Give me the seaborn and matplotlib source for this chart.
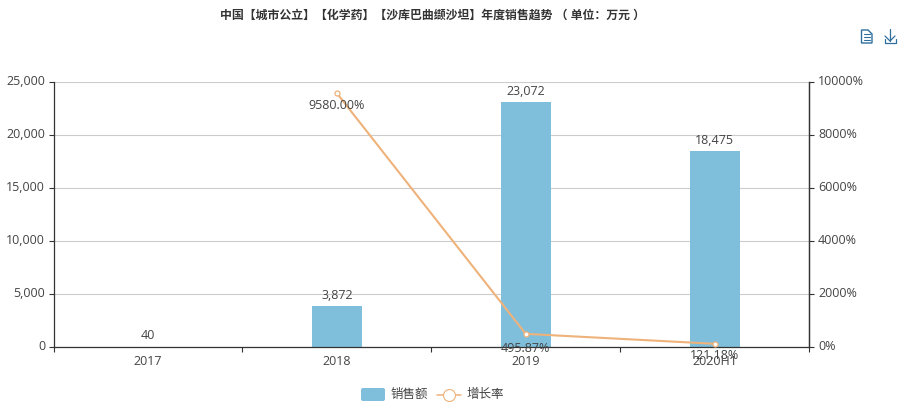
import matplotlib
matplotlib.use("Agg")
import matplotlib.pyplot as plt
from matplotlib.lines import Line2D
from matplotlib.patches import FancyBboxPatch, Polygon
from matplotlib.transforms import ScaledTranslation
import seaborn as sns
import pandas as pd

years = ["2017", "2018", "2019", "2020H1"]
sales = [40, 3872, 23072, 18475]
sales_labels = ["40", "3,872", "23,072", "18,475"]
growth_years = ["2018", "2019", "2020H1"]
growth = [9580.00, 495.87, 121.18]
growth_labels = ["9580.00%", "495.87%", "121.18%"]
left_ticks = [0, 5000, 10000, 15000, 20000, 25000]
right_ticks = [0, 2000, 4000, 6000, 8000, 10000]
title = "中国【城市公立】【化学药】【沙库巴曲缬沙坦】年度销售趋势 （ 单位：万元 ）"
legend_bar = "销售额"
legend_line = "增长率"

BAR = "#7fbfdc"
LINE = "#eeb27a"
TXT = "#444444"
AX = "#333333"
W, H = 902, 408
L, R, T, B = 53.5, 809, 82, 347

sns.set_theme(style="white")
plt.rcParams["font.family"] = ["Open Sans", "Noto Sans CJK SC", "DejaVu Sans"]

fig = plt.figure(figsize=(W / 100, H / 100), dpi=100, facecolor="white")
ax = fig.add_axes([L / W, 1 - B / H, (R - L) / W, (B - T) / H])

df = pd.DataFrame({"year": years, "sales": sales})
sns.barplot(data=df, x="year", y="sales", color=BAR, saturation=1, width=0.265,
            edgecolor="none", linewidth=0, ax=ax, zorder=2)
ax.set_xlim(-0.5, 3.5)
ax.set_ylim(0, 25000)
ax.set_yticks(left_ticks)
ax.set_yticklabels([f"{v:,}" for v in left_ticks])
ax.set_xlabel("")
ax.set_ylabel("")
ax.grid(axis="y", color="#cccccc", lw=0.8, zorder=0)
ax.set_axisbelow(True)
ax.set_xticks([0, 1, 2, 3])
ax.set_xticklabels(years)
ax.set_xticks([-0.5, 0.5, 1.5, 2.5, 3.5], minor=True)
ax.tick_params(axis="x", which="major", length=0, pad=5.5, labelsize=9, labelcolor=TXT)
ax.tick_params(axis="x", which="minor", length=3.5, width=0.8, color=AX, direction="out", bottom=True)
ax.tick_params(axis="y", length=3.5, width=0.8, color=AX, labelsize=9, labelcolor=TXT, pad=2.5, left=True)
for s in ["left", "bottom", "right"]:
    ax.spines[s].set_color(AX)
    ax.spines[s].set_linewidth(0.9)
ax.spines["top"].set_visible(False)

for x, v, lab in zip(years, sales, sales_labels):
    ax.annotate(lab, (years.index(x), v), xytext=(0, 3), textcoords="offset points",
                ha="center", va="bottom", fontsize=9, color=TXT, zorder=6)

ax2 = ax.twinx()
ax2.set_position(ax.get_position())
gd = pd.DataFrame({"x": [years.index(y) for y in growth_years], "g": growth})
sns.lineplot(data=gd, x="x", y="g", color=LINE, lw=1.5, marker="o", markersize=3.6,
             markerfacecolor="white", markeredgecolor=LINE, markeredgewidth=0.9, ax=ax2, zorder=5)
ax2.set_xlim(-0.5, 3.5)
ax2.set_ylim(0, 10000)
ax2.set_yticks(right_ticks)
ax2.set_yticklabels([f"{v}%" for v in right_ticks])
ax2.set_ylabel("")
ax2.tick_params(axis="y", length=3.5, width=0.8, color=AX, labelsize=9, labelcolor=TXT, pad=3, right=True)
ax2.grid(False)
for s in ["left", "bottom", "top"]:
    ax2.spines[s].set_visible(False)
ax2.spines["right"].set_color(AX)
ax2.spines["right"].set_linewidth(0.9)

# the reference's y tick labels sit slightly above their ticks
shift = ScaledTranslation(0, 1.5 / 72, fig.dpi_scale_trans)
for lab in ax.get_yticklabels() + ax2.get_yticklabels():
    lab.set_transform(lab.get_transform() + shift)

for y, v, lab, off in zip(growth_years, growth, growth_labels, [-4, -6, -3.5]):
    ax2.annotate(lab, (years.index(y), v), xytext=(0, off), textcoords="offset points",
                 ha="center", va="top", fontsize=9, color=TXT, zorder=7, annotation_clip=False)

fig.text(433 / W, 1 - 15 / H, title, ha="center", va="center", fontsize=8.55,
         fontweight="bold", color="#333333")

def px(xs, ys):
    return [(x / W, 1 - y / H) for x, y in zip(xs, ys)]

# legend, laid out as the reference's
fig.add_artist(FancyBboxPatch((361, H - 401), 24, 13, boxstyle="round,pad=0,rounding_size=2",
                              facecolor=BAR, edgecolor="none", transform=None))
fig.text(391 / W, 1 - 394.5 / H, legend_bar, ha="left", va="center", fontsize=9, color=TXT)
fig.add_artist(Line2D(*zip(*px([437, 461], [394.5, 394.5])), color=LINE, lw=1.1, transform=fig.transFigure))
fig.add_artist(Line2D(*zip(*px([449], [394.5])), color=LINE, marker="o", markersize=8.6, markerfacecolor="white",
                      markeredgecolor=LINE, markeredgewidth=0.8, transform=fig.transFigure))
fig.text(467 / W, 1 - 394.5 / H, legend_line, ha="left", va="center", fontsize=9, color=TXT)

# toolbox icons
ICON = "#2f6f9f"
fig.add_artist(Polygon(px([861.5, 868, 872, 872, 861.5], [30, 30, 34, 43, 43]), closed=True, fill=False,
                       edgecolor=ICON, lw=1.0, transform=fig.transFigure))
for yy in [34, 37, 40]:
    fig.add_artist(Line2D(*zip(*px([863.5, 870], [yy, yy])), color=ICON, lw=0.8, transform=fig.transFigure))
for xs, ys in [([890, 890], [29, 41]), ([885, 890, 895], [36, 41, 36]), ([884.5, 884.5, 896, 896], [39, 43, 43, 39])]:
    fig.add_artist(Line2D(*zip(*px(xs, ys)), color=ICON, lw=0.9, transform=fig.transFigure))

fig.savefig("out.png", dpi=100)
